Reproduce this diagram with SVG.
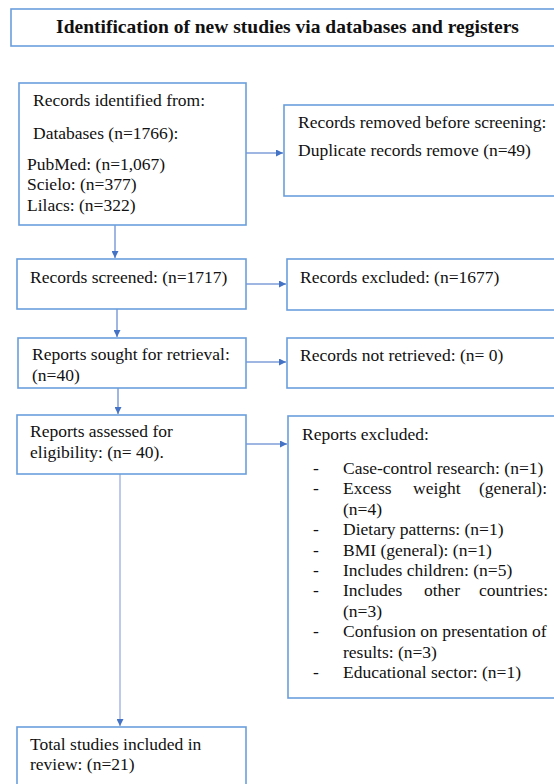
<svg xmlns="http://www.w3.org/2000/svg" width="554" height="784" viewBox="0 0 554 784">
<defs>
<style>
.box{fill:#ffffff;stroke:#6a9fdc;stroke-width:1.6}
.t{font-family:"Liberation Serif","Times New Roman",serif;font-size:17.5px;fill:#111111}
.title{font-family:"Liberation Serif","Times New Roman",serif;font-size:19.5px;font-weight:bold;fill:#111111}
.ln{stroke:#7f9ed8;stroke-width:1.5;fill:none}
.ln2{stroke:#a9b9e6;stroke-width:1.5;fill:none}
</style>
<marker id="ah" viewBox="0 0 10 10" refX="10" refY="5" markerWidth="7" markerHeight="7" markerUnits="userSpaceOnUse" orient="auto">
<path d="M0,0 L10,5 L0,10 Z" fill="#4472c4"/>
</marker>
</defs>
<rect width="554" height="784" fill="#ffffff"/>

<g id="title">
<rect class="box" x="11" y="9" width="560" height="37"/>
<text class="title" x="287.5" y="33" text-anchor="middle">Identification of new studies via databases and registers</text>
</g>

<g id="connectors">
<path class="ln" d="M246,153 H283" marker-end="url(#ah)"/>
<path class="ln" d="M115,225 V258" marker-end="url(#ah)"/>
<path class="ln" d="M246,284 H286" marker-end="url(#ah)"/>
<path class="ln" d="M117,309 V337" marker-end="url(#ah)"/>
<path class="ln" d="M246,362 H286" marker-end="url(#ah)"/>
<path class="ln" d="M118,388 V414" marker-end="url(#ah)"/>
<path class="ln" d="M246,444 H287" marker-end="url(#ah)"/>
<path class="ln2" d="M120,474 V726" marker-end="url(#ah)"/>
</g>

<g id="identified">
<rect class="box" x="19" y="83" width="227" height="142"/>
<text class="t" x="33" y="106">Records identified from:</text>
<text class="t" x="33" y="139">Databases (n=1766):</text>
<text class="t" x="27" y="170">PubMed: (n=1,067)</text>
<text class="t" x="27" y="190">Scielo: (n=377)</text>
<text class="t" x="27" y="211">Lilacs: (n=322)</text>
</g>

<g id="removed">
<rect class="box" x="284" y="105" width="290" height="91"/>
<text class="t" x="298" y="128">Records removed before screening:</text>
<text class="t" x="298" y="156">Duplicate records remove (n=49)</text>
</g>

<g id="screened">
<rect class="box" x="17" y="259" width="229" height="50"/>
<text class="t" x="30" y="283">Records screened: (n=1717)</text>
</g>

<g id="excluded">
<rect class="box" x="287" y="259" width="290" height="51"/>
<text class="t" x="300" y="283">Records excluded: (n=1677)</text>
</g>

<g id="sought">
<rect class="box" x="18" y="338" width="228" height="50"/>
<text class="t" x="32" y="360">Reports sought for retrieval:</text>
<text class="t" x="32" y="381">(n=40)</text>
</g>

<g id="notretrieved">
<rect class="box" x="287" y="338" width="290" height="50"/>
<text class="t" x="300" y="361">Records not retrieved: (n= 0)</text>
</g>

<g id="assessed">
<rect class="box" x="17" y="415" width="229" height="59"/>
<text class="t" x="30" y="437">Reports assessed for</text>
<text class="t" x="30" y="458">eligibility: (n= 40).</text>
</g>

<g id="reportsexcluded">
<rect class="box" x="288" y="416" width="290" height="282"/>
<text class="t" x="302" y="440">Reports excluded:</text>
<g class="t">
<text x="313" y="474">-</text><text x="343" y="474">Case-control research: (n=1)</text>
<text x="313" y="494.4">-</text><text x="343" y="494.4">Excess</text><text x="413" y="494.4">weight</text><text x="547" y="494.4" text-anchor="end">(general):</text>
<text x="343" y="514.8">(n=4)</text>
<text x="313" y="535.2">-</text><text x="343" y="535.2">Dietary patterns: (n=1)</text>
<text x="313" y="555.6">-</text><text x="343" y="555.6">BMI (general): (n=1)</text>
<text x="313" y="576">-</text><text x="343" y="576">Includes children: (n=5)</text>
<text x="313" y="596.4">-</text><text x="343" y="596.4">Includes</text><text x="424" y="596.4">other</text><text x="548" y="596.4" text-anchor="end">countries:</text>
<text x="343" y="616.8">(n=3)</text>
<text x="313" y="637.2">-</text><text x="343" y="637.2">Confusion on presentation of</text>
<text x="343" y="657.6">results: (n=3)</text>
<text x="313" y="678">-</text><text x="343" y="678">Educational sector: (n=1)</text>
</g>
</g>

<g id="total">
<rect class="box" x="17" y="727" width="229" height="70"/>
<text class="t" x="30" y="750">Total studies included in</text>
<text class="t" x="30" y="770">review: (n=21)</text>
</g>
</svg>
